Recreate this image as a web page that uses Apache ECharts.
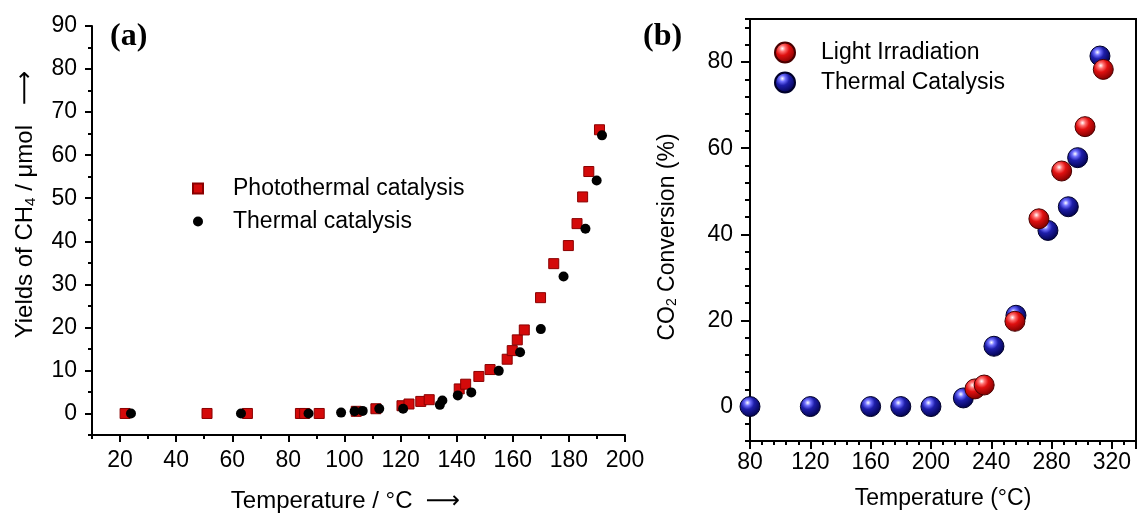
<!DOCTYPE html>
<html>
<head>
<meta charset="utf-8">
<script src="https://cdn.jsdelivr.net/npm/echarts@6/dist/echarts.min.js"></script>
<style>
  html, body { margin: 0; padding: 0; background: #fff; }
  #chart { width: 1137px; height: 518px; }
</style>
</head>
<body>
<div id="chart"></div>
<script>
// (a) yields of CH4
const photoT = [21.8, 51.0, 65.4, 84.3, 85.8, 91.0, 104.2, 111.2, 120.5, 123.0, 127.2, 130.2, 140.9, 143.2, 147.9, 151.9, 158.0, 159.8, 161.6, 164.1, 169.9, 174.6, 179.8, 182.9, 184.9, 187.1, 190.9]
const photoY = [0, 0, 0, 0, 0, 0, 0.5, 1.1, 1.8, 2.2, 2.8, 3.2, 5.7, 6.8, 8.6, 10.2, 12.6, 14.6, 17.1, 19.4, 26.9, 34.8, 39.0, 44.1, 50.3, 56.2, 65.9]
const thermalT = [23.9, 63.1, 87.2, 98.8, 103.6, 106.5, 112.4, 120.9, 134.0, 134.9, 140.4, 145.2, 155.0, 162.6, 170.0, 178.1, 185.9, 189.9, 191.8]
const thermalY = [0, 0, 0, 0.2, 0.5, 0.6, 1.1, 1.1, 2.0, 3.0, 4.2, 4.9, 9.9, 14.2, 19.6, 31.8, 42.9, 54.1, 64.6]
const aTicksX = [20, 40, 60, 80, 100, 120, 140, 160, 180, 200]
const aTicksY = [0, 10, 20, 30, 40, 50, 60, 70, 80, 90]

// (b) CO2 conversion
const thermB_T = [80, 120, 160, 180, 200, 221.5, 241.8, 256.4, 277.6, 291.1, 297.3, 312.1]
const thermB_V = [0, 0, 0, 0, 0, 2.0, 14.0, 21.2, 40.9, 46.4, 57.8, 81.4]
const lightT = [229.2, 235.3, 255.7, 271.6, 286.7, 302.2, 314.3]
const lightV = [4.1, 5.0, 19.8, 43.6, 54.7, 65.0, 78.3]
const bTicksY = [0, 20, 40, 60, 80]

const pairs = (xs, ys) => xs.map((x, i) => [x, ys[i]])
const font = 'Liberation Sans, Arial, DejaVu Sans, sans-serif'
const black = { color: '#000', width: 2 }

// ball look for panel (b)
const ball = (hi, mid, edge) => ({
  type: 'radial', x: 0.38, y: 0.32, r: 0.7,
  colorStops: [
    { offset: 0, color: '#ffffff' },
    { offset: 0.2, color: hi },
    { offset: 0.45, color: mid },
    { offset: 1, color: edge },
  ],
})

let mychart = echarts.init(document.getElementById('chart'))
mychart.setOption({
  animation: false,
  backgroundColor: '#fff',
  textStyle: { fontFamily: font, color: '#000' },
  title: [
    { text: '(a)', left: 110, top: 21, padding: 0,
      textStyle: { fontFamily: 'Liberation Serif, serif', fontWeight: 'bold', fontSize: 32, color: '#000' } },
    { text: '(b)', left: 643, top: 21, padding: 0,
      textStyle: { fontFamily: 'Liberation Serif, serif', fontWeight: 'bold', fontSize: 32, color: '#000' } },
  ],
  legend: [
    {
      data: ['Photothermal catalysis', 'Thermal catalysis'],
      orient: 'vertical', left: 192, top: 177, padding: 0,
      itemWidth: 10, itemHeight: 10, itemGap: 10,
      selectedMode: false,
      textStyle: { fontSize: 23, color: '#000', fontFamily: font, padding: [0, 0, 0, 25] },
    },
    {
      data: ['Light Irradiation', 'Thermal Catalysis'],
      orient: 'vertical', left: 774, top: 41, padding: 0,
      itemWidth: 20, itemHeight: 20, itemGap: 7,
      selectedMode: false,
      textStyle: { fontSize: 23, color: '#000', fontFamily: font, padding: [0, 0, 0, 21] },
    },
  ],
  grid: [
    { left: 92, top: 26, width: 533, height: 415 },
    { left: 750, top: 19, width: 386, height: 422, show: true, borderColor: '#000', borderWidth: 2 },
  ],
  xAxis: [
    {
      gridIndex: 0, type: 'value', min: 10, max: 200, position: 'bottom',
      axisLine: { onZero: false, lineStyle: black },
      axisTick: { customValues: aTicksX, length: 7, lineStyle: black },
      axisLabel: { customValues: aTicksX, fontSize: 23, margin: 14, color: '#000' },
      splitLine: { show: false },
      name: 'Temperature / °C  ⟶', nameLocation: 'middle', nameGap: 54,
      nameTextStyle: { fontSize: 24, color: '#000', padding: [0, 26, 0, 0] },
    },
    {
      gridIndex: 0, type: 'value', min: 10, max: 200, interval: 10, position: 'bottom',
      axisLine: { show: false, onZero: false },
      axisTick: { length: 4, lineStyle: black },
      axisLabel: { show: false },
      splitLine: { show: false },
    },
    {
      gridIndex: 1, type: 'value', min: 80, max: 336, interval: 40, position: 'bottom',
      axisLine: { onZero: false, lineStyle: black },
      axisTick: { length: 8, lineStyle: black },
      minorTick: { show: true, splitNumber: 5, length: 4, lineStyle: { color: '#000', width: 2 } },
      axisLabel: { fontSize: 23, margin: 10, color: '#000', showMaxLabel: false },
      splitLine: { show: false },
      name: 'Temperature (°C)', nameLocation: 'middle', nameGap: 46,
      nameTextStyle: { fontSize: 23, color: '#000' },
    },
  ],
  yAxis: [
    {
      gridIndex: 0, type: 'value', min: -5, max: 90, position: 'left',
      axisLine: { onZero: false, lineStyle: black },
      axisTick: { customValues: aTicksY, length: 7, lineStyle: black },
      axisLabel: { customValues: aTicksY, fontSize: 23, margin: 15, color: '#000' },
      splitLine: { show: false },
      name: 'Yields of CH{sub|4} / μmol   ⟶', nameLocation: 'middle', nameGap: 54,
      nameTextStyle: {
        fontSize: 24, color: '#000', padding: [0, 0, 0, 52],
        rich: { sub: { fontSize: 15, verticalAlign: 'bottom', padding: [10, 0, 0, 0] } },
      },
    },
    {
      gridIndex: 0, type: 'value', min: -5, max: 90, interval: 5, position: 'left',
      axisLine: { show: false, onZero: false },
      axisTick: { length: 4, lineStyle: black },
      axisLabel: { show: false },
      splitLine: { show: false },
    },
    {
      gridIndex: 1, type: 'value', min: -8, max: 90, position: 'left',
      axisLine: { onZero: false, lineStyle: black },
      axisTick: { customValues: bTicksY, length: 9, lineStyle: black },
      axisLabel: { customValues: bTicksY, fontSize: 23, margin: 17, color: '#000' },
      splitLine: { show: false },
      name: 'CO{sub|2} Conversion (%)', nameLocation: 'middle', nameGap: 71,
      nameTextStyle: {
        fontSize: 23, color: '#000', padding: [0, 14, 0, 0],
        rich: { sub: { fontSize: 14, verticalAlign: 'bottom', padding: [8, 0, 0, 0] } },
      },
    },
    {
      gridIndex: 1, type: 'value', min: -8, max: 90, interval: 4, position: 'left',
      axisLine: { show: false, onZero: false },
      axisTick: { length: 5, lineStyle: black },
      axisLabel: { show: false },
      splitLine: { show: false },
    },
  ],
  series: [
    {
      name: 'Photothermal catalysis', type: 'scatter', xAxisIndex: 0, yAxisIndex: 0,
      symbol: 'rect', symbolSize: 10,
      itemStyle: { color: '#d40a0a', borderColor: '#8a0000', borderWidth: 1, opacity: 1 },
      data: pairs(photoT, photoY),
    },
    {
      name: 'Thermal catalysis', type: 'scatter', xAxisIndex: 0, yAxisIndex: 0,
      symbol: 'circle', symbolSize: 10,
      itemStyle: { color: '#000', opacity: 1 },
      data: pairs(thermalT, thermalY),
    },
    {
      name: 'Thermal Catalysis', type: 'scatter', xAxisIndex: 2, yAxisIndex: 2,
      symbol: 'circle', symbolSize: 20, clip: false,
      itemStyle: { color: ball('#7070ff', '#1e1eaa', '#000048'), borderColor: '#00002a', borderWidth: 1, opacity: 1 },
      data: pairs(thermB_T, thermB_V),
    },
    {
      name: 'Light Irradiation', type: 'scatter', xAxisIndex: 2, yAxisIndex: 2,
      symbol: 'circle', symbolSize: 20, clip: false,
      itemStyle: { color: ball('#ff7070', '#e01010', '#7a0000'), borderColor: '#4a0000', borderWidth: 1, opacity: 1 },
      data: pairs(lightT, lightV),
    },
  ],
})
</script>
</body>
</html>
